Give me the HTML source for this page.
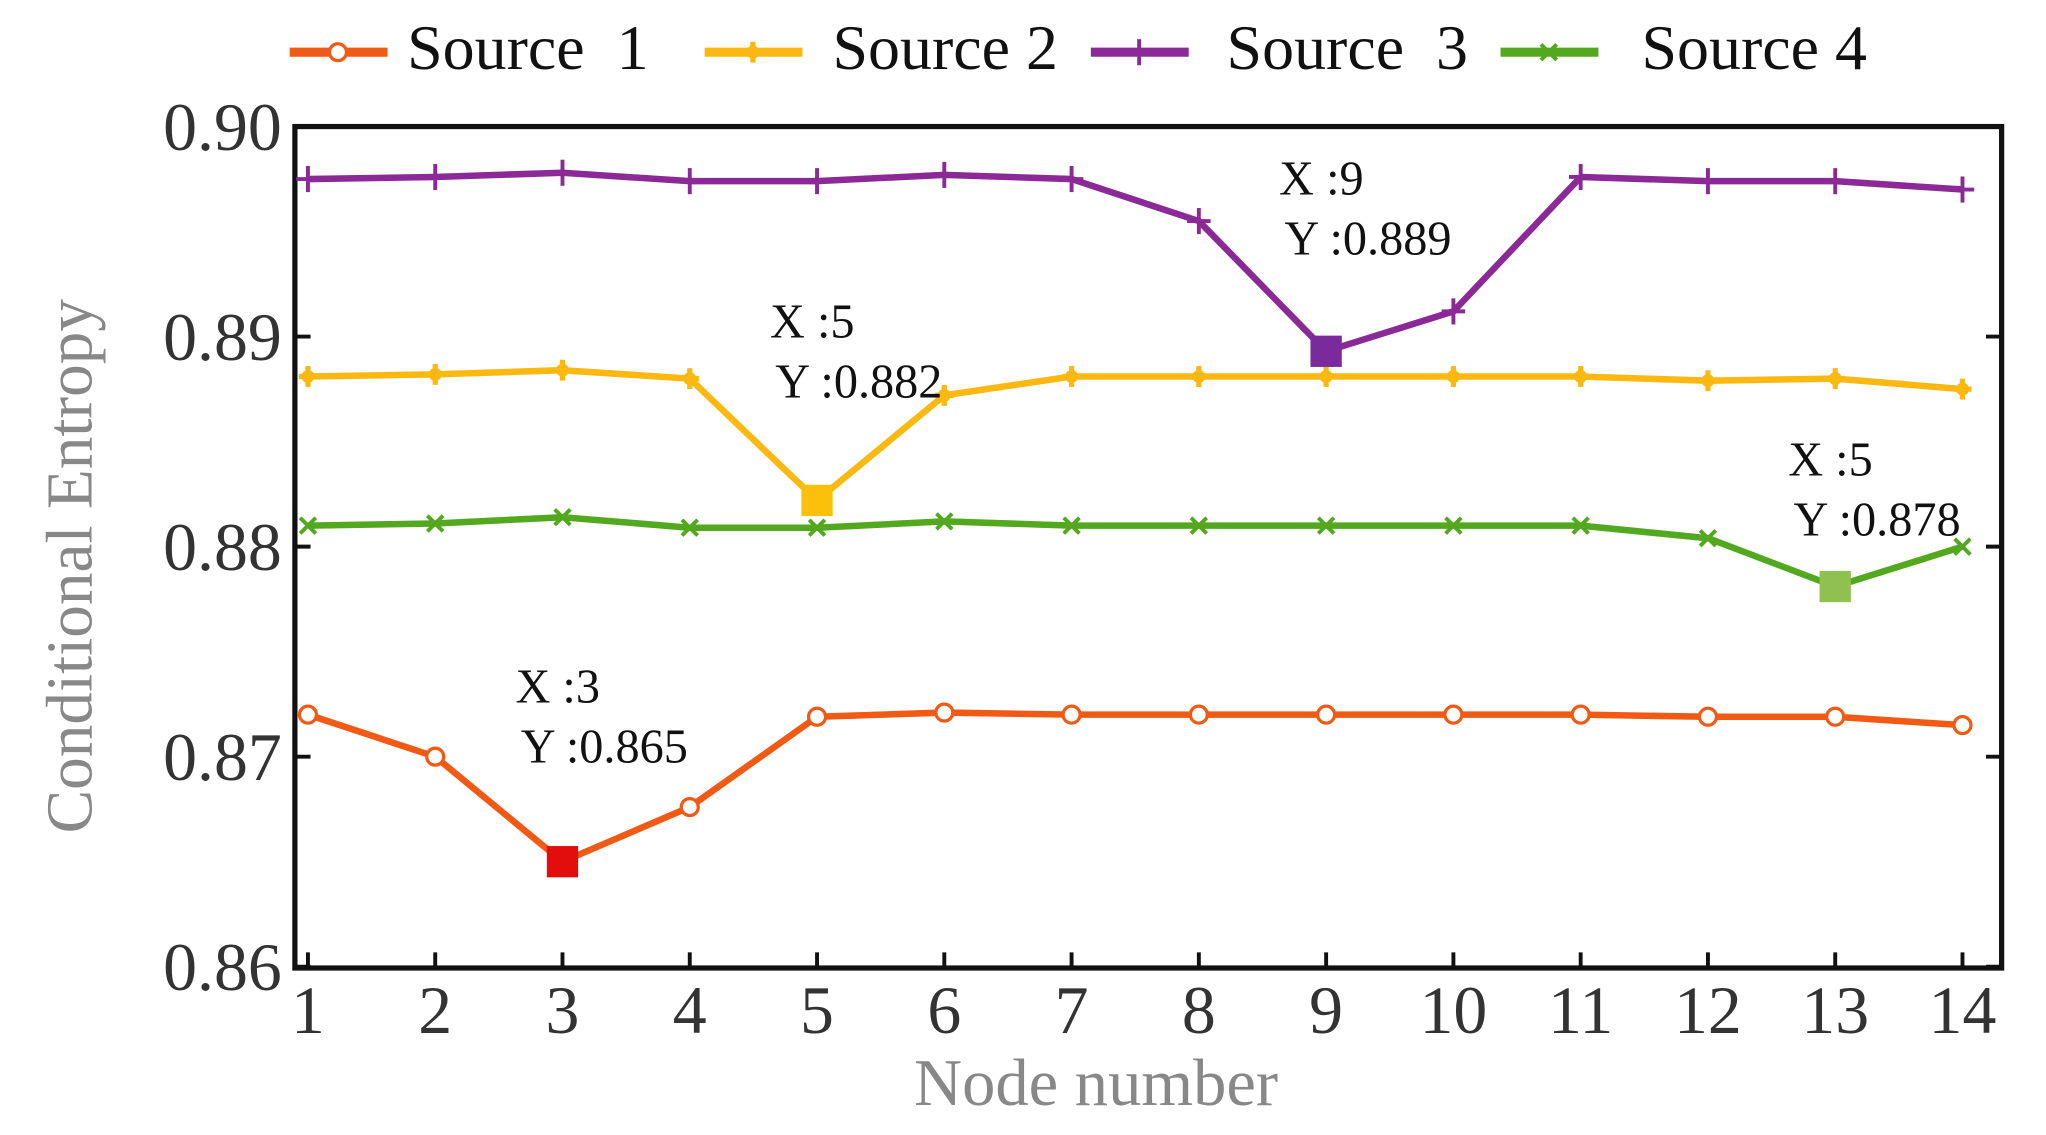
<!DOCTYPE html>
<html><head><meta charset="utf-8"><style>html,body{margin:0;padding:0;background:#fff}svg{display:block}</style></head>
<body>
<svg width="2046" height="1135" viewBox="0 0 1568 870" preserveAspectRatio="none" xmlns="http://www.w3.org/2000/svg" font-family="'Liberation Serif', serif">
<g id="g"></g>
</svg>
<script>
const nodes=[1,2,3,4,5,6,7,8,9,10,11,12,13,14];
const yTicks=[0.86,0.87,0.88,0.89,0.90];
const yTickLabels=["0.86","0.87","0.88","0.89","0.90"];
const s1=[0.8720,0.8700,0.8650,0.8676,0.8719,0.8721,0.8720,0.8720,0.8720,0.8720,0.8720,0.8719,0.8719,0.8715];
const s2=[0.8881,0.8882,0.8884,0.8880,0.8822,0.8872,0.8881,0.8881,0.8881,0.8881,0.8881,0.8879,0.8880,0.8875];
const s3=[0.8975,0.8976,0.8978,0.8974,0.8974,0.8977,0.8975,0.8955,0.8893,0.8912,0.8976,0.8974,0.8974,0.8970];
const s4=[0.8810,0.8811,0.8814,0.8809,0.8809,0.8812,0.8810,0.8810,0.8810,0.8810,0.8810,0.8804,0.8781,0.8800];
const seriesNames=["Source  1","Source 2","Source  3","Source 4"];
const annX=[3,5,9,13];
const annLabelX=["3","5","9","5"];
const annY=["0.865","0.882","0.889","0.878"];

const L=226,R=1534,T=97,B=742;
const X=v=>236+(v-1)*(1504-236)/13;
const Y=v=>97+(0.90-v)*16100;
const g=document.getElementById('g');
const NS='http://www.w3.org/2000/svg';
function mk(t,a,p){const e=document.createElementNS(NS,t);for(const k in a)e.setAttribute(k,a[k]);(p||g).appendChild(e);return e;}

const box=mk('rect',{x:L,y:T,width:R-L,height:B-T,fill:'none',stroke:'#111','stroke-width':4});


yTicks.forEach((v,i)=>{
  const y=Y(v);
  const t1=mk('line',{x1:L,x2:L+12,y1:y,y2:y,stroke:'#111','stroke-width':3});
  
  
  const t2=mk('line',{x1:R-12,x2:R,y1:y,y2:y,stroke:'#111','stroke-width':3});
  
  
  const tx=mk('text',{x:216,y:y+18,'text-anchor':'end','font-size':52,fill:'#333'});
  tx.textContent=yTickLabels[i];
  
  
});
nodes.forEach(n=>{
  const x=X(n);
  const t=mk('line',{x1:x,x2:x,y1:B,y2:B-12,stroke:'#111','stroke-width':3});
  
  
  const tx=mk('text',{x:x,y:792,'text-anchor':'middle','font-size':52,fill:'#333'});
  tx.textContent=n;
  
  
});
const xt=mk('text',{x:840,y:847,'text-anchor':'middle','font-size':51,fill:'#888'});
xt.textContent='Node number';


const yt=mk('text',{x:0,y:0,'text-anchor':'middle','font-size':50,fill:'#888',transform:'translate(70,434) rotate(-90)'});
yt.textContent='Conditional Entropy';



const colors=['#f05a14','#fbb811','#8b2a96','#52a81e'];
const minColors=['#e20e0e','#fbc10a','#7a2a9a','#8fc050'];
const all=[s1,s2,s3,s4];
function marker(k,x,y,c,p){
  if(k===0) mk('circle',{cx:x,cy:y,r:6.5,fill:'#fff',stroke:c,'stroke-width':2.5},p);
  else if(k===1){mk('line',{x1:x-7,x2:x+7,y1:y,y2:y,stroke:c,'stroke-width':4},p);mk('line',{x1:x,x2:x,y1:y-8,y2:y+8,stroke:c,'stroke-width':4},p);mk('circle',{cx:x,cy:y,r:5,fill:c},p);}
  else if(k===2){mk('line',{x1:x-9,x2:x+9,y1:y,y2:y,stroke:c,'stroke-width':3},p);mk('line',{x1:x,x2:x,y1:y-10,y2:y+10,stroke:c,'stroke-width':3},p);}
  else {mk('line',{x1:x-6,x2:x+6,y1:y-6,y2:y+6,stroke:c,'stroke-width':3},p);mk('line',{x1:x-6,x2:x+6,y1:y+6,y2:y-6,stroke:c,'stroke-width':3},p);}
}
all.forEach((s,k)=>{
  const sg=mk('g',{});
  
  
  const pl=mk('polyline',{points:s.map((v,i)=>X(nodes[i])+','+Y(v)).join(' '),fill:'none',stroke:colors[k],'stroke-width':5,'stroke-linejoin':'round'},sg);
  
  
  s.forEach((v,i)=>marker(k,X(nodes[i]),Y(v),colors[k],sg));
  const ai=nodes.indexOf(annX[k]);
  const sq=mk('rect',{x:X(annX[k])-12,y:Y(s[ai])-12,width:24,height:24,fill:minColors[k]},sg);
  
  
  const ax=X(annX[k])-36, ay=Y(s[ai]);
  const yoff=[-122,-125,-120,-85][k];
  const t1=mk('text',{x:ax,y:ay+yoff,'font-size':37,fill:'#111'});
  t1.textContent='X :'+annLabelX[k];
  
  
  const t2=mk('text',{x:ax+4,y:ay+yoff+46,'font-size':37,fill:'#111'});
  t2.textContent='Y :'+annY[k];
  
  
});

const legX=[222,540,836,1150], legT=[312,638,940,1258];
seriesNames.forEach((nm,k)=>{
  const lg=mk('g',{});
  
  
  mk('line',{x1:legX[k],x2:legX[k]+75,y1:40,y2:40,stroke:colors[k],'stroke-width':7},lg);
  marker(k,legX[k]+37,40,colors[k],lg);
  const t=mk('text',{x:legT[k],y:53,'font-size':49,fill:'#111'},lg);
  t.setAttribute('style','white-space:pre');
  t.textContent=nm;
});
</script>
</body></html>
